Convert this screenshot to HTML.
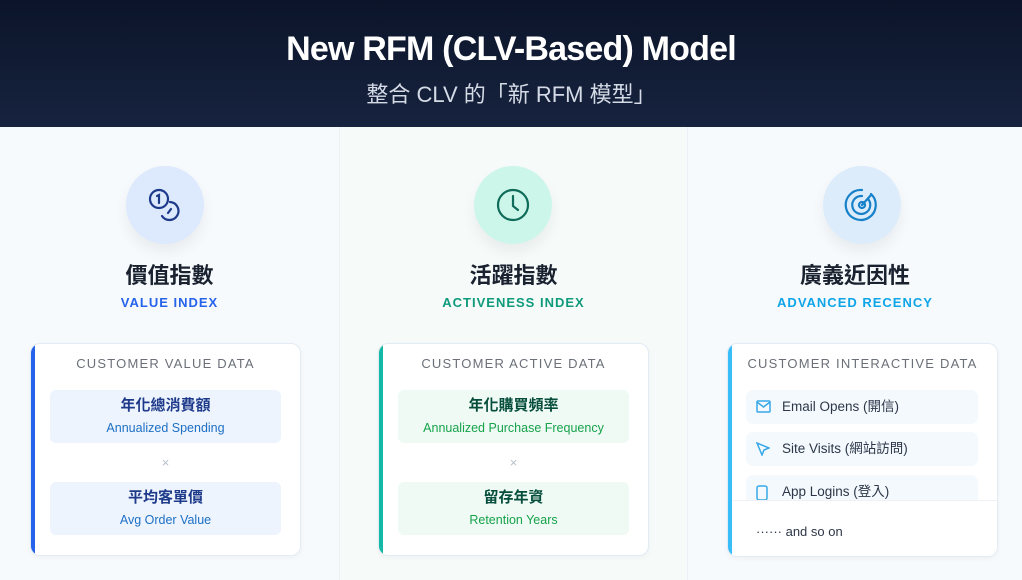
<!DOCTYPE html>
<html><head><meta charset="utf-8"><style>
*{margin:0;padding:0;box-sizing:border-box}
body{width:1022px;height:580px;overflow:hidden;background:#f7fafd;font-family:"Liberation Sans","Noto Sans CJK TC",sans-serif;position:relative}
.hdr{position:absolute;left:0;top:0;width:1022px;height:127px;background:linear-gradient(180deg,#0b1429,#17233f);text-align:center;color:#fff}
.hdr h1{position:absolute;top:30px;width:100%;font-size:34px;font-weight:bold;letter-spacing:-0.8px}
.hdr p{position:absolute;top:77px;width:100%;font-size:22px;color:#d5dbe6}
.col{position:absolute;top:127px;height:453px}
.circ{position:absolute;width:78px;height:78px;border-radius:50%;top:39px;box-shadow:0 8px 14px rgba(0,0,0,0.06)}
.circ svg{position:absolute;left:21px;top:21px}
.t{position:absolute;top:131px;width:100%;text-align:center;font-size:22px;font-weight:bold;color:#1a2230}
.s{position:absolute;top:168px;width:100%;text-align:center;font-size:13px;font-weight:bold;letter-spacing:1px}
.card{position:absolute;top:216px;width:271px;height:213px;background:#fff;border-radius:10px;border:1px solid #e3ebf4;overflow:hidden;box-shadow:0 2px 6px rgba(0,0,0,0.04)}
.card .bar{position:absolute;left:0;top:0;width:4px;height:100%}
.card .h{position:absolute;top:12px;width:100%;text-align:center;font-size:13px;color:#6b7078;letter-spacing:1.2px}
.box{position:absolute;left:19px;width:231px;height:53px;border-radius:6px;text-align:center}
.box b{display:block;margin-top:4px;font-size:15px;color:#1e3a8a}
.box span{display:block;margin-top:6px;font-size:12.5px}
.x{position:absolute;top:111px;width:100%;text-align:center;color:#b8c0cc;font-size:13px}
.it{position:absolute;left:18px;width:232px;height:34px;border-radius:7px;background:#f4f9fe;font-size:13.5px;color:#2d3748;line-height:34px;padding-left:36px}
.it svg{position:absolute;left:10px;top:10px}
</style></head><body>
<div class="hdr"><h1>New RFM (CLV-Based) Model</h1><p>整合 CLV 的「新 RFM 模型」</p></div>

<div class="col" style="left:0;width:340px;background:#f7fafd;border-right:1px solid #edf1f6">
<div class="circ" style="left:126px;background:#dde9fc"><svg width="36" height="36" viewBox="0 0 36 36" fill="none" stroke="#1e3a8a" stroke-width="2.2" stroke-linecap="round"><circle cx="12" cy="12" r="9"/><path d="M10 9l2-1v8"/><path d="M23 15a9 9 0 1 1-8 14"/><path d="M24 22l-3 4"/></svg></div>
<div class="t">價值指數</div><div class="s" style="color:#2563eb">VALUE INDEX</div>
<div class="card" style="left:30px"><div class="bar" style="background:#2563eb"></div><div class="h">CUSTOMER VALUE DATA</div>
<div class="box" style="top:46px;background:#edf4fe"><b>年化總消費額</b><span style="color:#1d6fc4">Annualized Spending</span></div>
<div class="x">×</div>
<div class="box" style="top:138px;background:#edf4fe"><b>平均客單價</b><span style="color:#1d6fc4">Avg Order Value</span></div></div>
</div>

<div class="col" style="left:340px;width:348px;background:#f6fbfa;border-right:1px solid #edf1f6">
<div class="circ" style="left:134px;background:#cdf6ea"><svg width="36" height="36" viewBox="0 0 36 36" fill="none" stroke="#0f6b5a" stroke-width="2.2" stroke-linecap="round"><circle cx="18" cy="18" r="15"/><path d="M18 9v10l5 4"/></svg></div>
<div class="t">活躍指數</div><div class="s" style="color:#0f9a7b">ACTIVENESS INDEX</div>
<div class="card" style="left:38px"><div class="bar" style="background:#14b8a6"></div><div class="h">CUSTOMER ACTIVE DATA</div>
<div class="box" style="top:46px;background:#effaf5"><b style="color:#064e3b">年化購買頻率</b><span style="color:#16a34a">Annualized Purchase Frequency</span></div>
<div class="x">×</div>
<div class="box" style="top:138px;background:#effaf5"><b style="color:#064e3b">留存年資</b><span style="color:#16a34a">Retention Years</span></div></div>
</div>

<div class="col" style="left:688px;width:334px;background:#f7fafd">
<div class="circ" style="left:135px;background:#dcecfb"><svg width="36" height="36" viewBox="0 0 36 36" fill="none" stroke="#1681c9" stroke-width="2.2" stroke-linecap="round"><path d="M27 7a15 15 0 1 1-9-4"/><path d="M24 12a9 9 0 1 1-6-3"/><circle cx="18" cy="18" r="3"/><path d="M18 18l9-10"/></svg></div>
<div class="t">廣義近因性</div><div class="s" style="color:#0ea5e9">ADVANCED RECENCY</div>
<div class="card" style="left:39px;height:214px"><div class="bar" style="background:#38bdf8"></div><div class="h">CUSTOMER INTERACTIVE DATA</div>
<div class="it" style="top:46px"><svg width="15" height="13" viewBox="0 0 15 13" fill="none" stroke="#38a8e8" stroke-width="1.5"><rect x="1" y="1" width="13" height="11" rx="1"/><path d="M1 2l6.5 5 6.5-5"/></svg>Email Opens (開信)</div>
<div class="it" style="top:88px"><svg width="14" height="14" viewBox="0 0 14 14" fill="none" stroke="#38a8e8" stroke-width="1.5"><path d="M1 1l12 5-5 2-2 5z"/></svg>Site Visits (網站訪問)</div>
<div class="it" style="top:131px"><svg width="12" height="16" viewBox="0 0 12 16" fill="none" stroke="#38a8e8" stroke-width="1.5"><rect x="1" y="1" width="10" height="14" rx="2"/></svg>App Logins (登入)</div>
<div style="position:absolute;left:4px;top:156px;width:267px;height:60px;background:#fff;border-top:1px solid #eef2f7"></div>
<div style="position:absolute;left:28px;top:180px;font-size:13px;color:#2d3748">······ and so on</div></div>
</div>
</body></html>
